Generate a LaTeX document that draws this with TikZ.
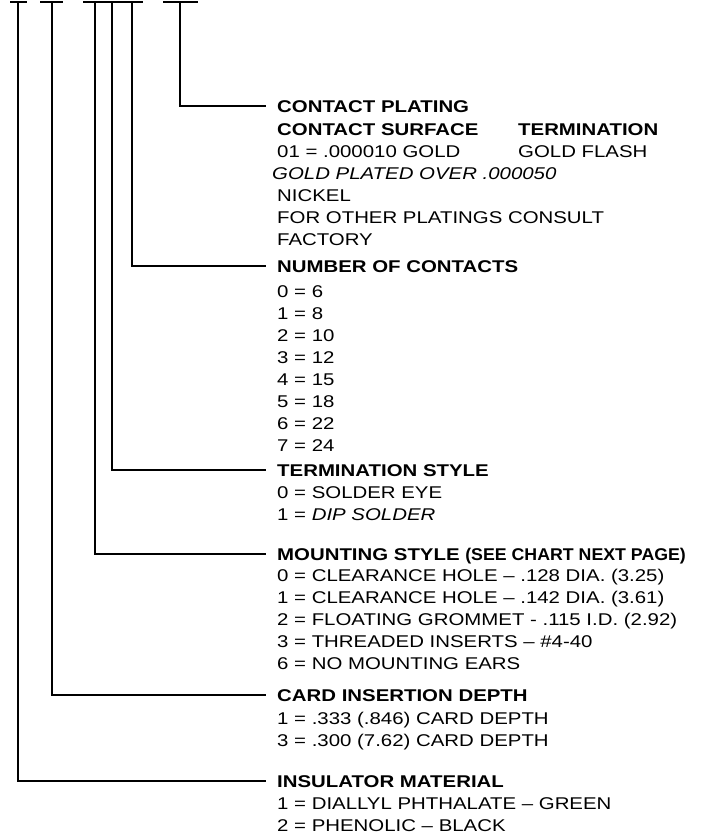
\documentclass[tikz,border=0pt]{standalone}
\usepackage{fontspec}
\usepackage{graphicx}
\setmainfont{Liberation Sans}[FakeStretch=1.2]
\usetikzlibrary{positioning}

\newcommand{\partfont}{\fontsize{17}{22}\selectfont}

\begin{document}
\begin{tikzpicture}[x=1pt,y=-1pt,
  lead/.style={line width=2.8pt},
  head/.style={font=\partfont\bfseries,anchor=west,inner sep=0pt,
    text height=12.2pt,text depth=0pt},
  entry/.style={font=\partfont,align=left,inner sep=0pt}]
\useasboundingbox (0,0) rectangle (712,834);

% top of each field
\coordinate (ins) at (18,2);
\coordinate (crd) at (52,2);
\coordinate (mnt) at (95,2);
\coordinate (trm) at (112,2);
\coordinate (num) at (132,2);
\coordinate (plt) at (180,2);

\draw[lead] ([xshift=-8pt]ins) -- ([xshift=9pt]ins);
\draw[lead] ([xshift=-12pt]crd) -- ([xshift=11pt]crd);
\draw[lead] ([xshift=-12pt]mnt) -- ([xshift=11pt]num);
\draw[lead] ([xshift=-17pt]plt) -- ([xshift=18pt]plt);

% headings
\node[head] (plate) at (277,106) {CONTACT PLATING};
\node[head] (count) at (277,266) {NUMBER OF CONTACTS};
\node[head] (term) at (277,470) {TERMINATION STYLE};
\node[head] (mount) at (277,554) {MOUNTING STYLE \scalebox{0.87}[1]{(SEE CHART NEXT PAGE)}};
\node[head] (card) at (277,695) {CARD INSERTION DEPTH};
\node[head] (insul) at (277,781) {INSULATOR MATERIAL};

% values
\node[entry,below right=10.8pt and 0pt of plate.south west] (plate-v)
  {\makebox[241pt][l]{\bfseries CONTACT SURFACE}{\bfseries TERMINATION}\\
   \makebox[241pt][l]{01 = .000010 GOLD}GOLD FLASH\\
   \hspace*{-5pt}{\itshape GOLD PLATED OVER .000050}\\
   NICKEL\\
   FOR OTHER PLATINGS CONSULT\\
   FACTORY};
\node[entry,below right=12.8pt and 0pt of count.south west] (count-v)
  {0 = 6\\ 1 = 8\\ 2 = 10\\ 3 = 12\\ 4 = 15\\ 5 = 18\\ 6 = 22\\ 7 = 24};
\node[entry,below right=9.8pt and 0pt of term.south west] (term-v)
  {0 = SOLDER EYE\\ 1 = {\itshape DIP SOLDER}};
\node[entry,below right=8.8pt and 0pt of mount.south west] (mount-v)
  {0 = CLEARANCE HOLE -- .128 DIA. (3.25)\\
   1 = CLEARANCE HOLE -- .142 DIA. (3.61)\\
   2 = FLOATING GROMMET - .115 I.D. (2.92)\\
   3 = THREADED INSERTS -- \#4-40\\
   6 = NO MOUNTING EARS};
\node[entry,below right=10.8pt and 0pt of card.south west] (card-v)
  {1 = .333 (.846) CARD DEPTH\\ 3 = .300 (7.62) CARD DEPTH};
\node[entry,below right=10.3pt and 0pt of insul.south west] (insul-v)
  {1 = DIALLYL PHTHALATE -- GREEN\\ 2 = PHENOLIC -- BLACK};

% leads
\draw[lead] (plt) |- ([xshift=-11pt]plate.west);
\draw[lead] (num) |- ([xshift=-11pt]count.west);
\draw[lead] (trm) |- ([xshift=-11pt]term.west);
\draw[lead] (mnt) |- ([xshift=-11pt]mount.west);
\draw[lead] (crd) |- ([xshift=-11pt]card.west);
\draw[lead] (ins) |- ([xshift=-11pt]insul.west);
\end{tikzpicture}
\end{document}
